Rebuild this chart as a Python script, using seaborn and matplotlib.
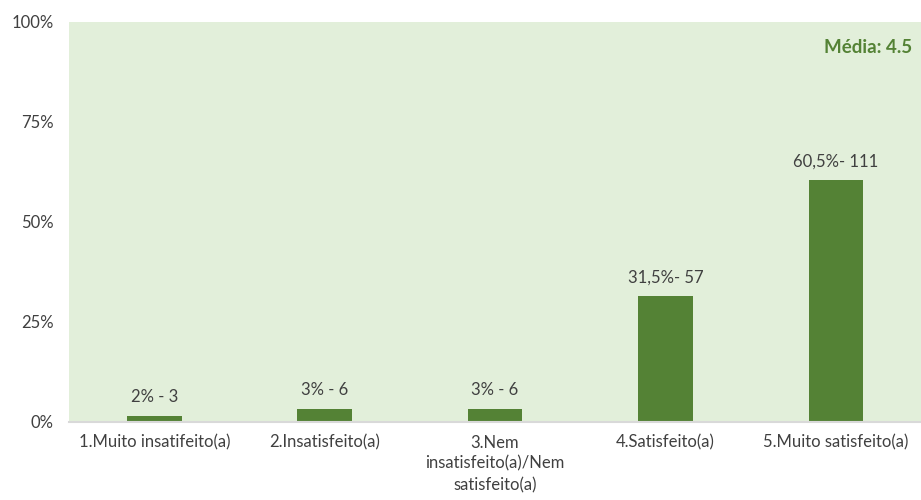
import matplotlib
matplotlib.use('Agg')
import matplotlib.pyplot as plt
import seaborn as sns
import pandas as pd
from matplotlib.ticker import FuncFormatter

# dados
categorias = ['1.Muito insatifeito(a)', '2.Insatisfeito(a)',
              '3.Nem\ninsatisfeito(a)/Nem\nsatisfeito(a)',
              '4.Satisfeito(a)', '5.Muito satisfeito(a)']
percentuais = [1.6, 3.3, 3.3, 31.5, 60.5]
rotulos = ['2% - 3', '3% - 6', '3% - 6', '31,5%- 57', '60,5%- 111']
media = 'Média: 4.5'

df = pd.DataFrame({'cat': categorias, 'pct': percentuais})

sns.set_style('white')
plt.rcParams['font.family'] = ['Lato', 'DejaVu Sans']

verde = '#548235'
fig = plt.figure(figsize=(9.21, 5), dpi=100)
ax = fig.add_axes([0.075, 0.156, 0.925, 0.8])
ax.set_facecolor('#E2EFDA')

sns.barplot(data=df, x='cat', y='pct', color=verde, width=0.32, saturation=1,
            linewidth=0, ax=ax)

for i, (v, t) in enumerate(zip(percentuais, rotulos)):
    ax.text(i, v + 2.7, t, ha='center', va='bottom', fontsize=12, color='#404040')

ax.text(0.99, 0.935, media, transform=ax.transAxes, ha='right', va='center',
        fontsize=13.5, fontweight='bold', color=verde)

ax.set_ylim(0, 100)
ax.set_yticks([0, 25, 50, 75, 100])
ax.yaxis.set_major_formatter(FuncFormatter(lambda v, p: f'{v:.0f}%'))
ax.set_xlabel('')
ax.set_ylabel('')
ax.tick_params(axis='both', length=0, labelsize=12, colors='#404040', pad=9)
ax.tick_params(axis='y', pad=11)
for lab in ax.get_xticklabels():
    lab.set_linespacing(1.4)
for s in ['top', 'right', 'left']:
    ax.spines[s].set_visible(False)
ax.spines['bottom'].set_color('#D9D9D9')
ax.spines['bottom'].set_linewidth(1.5)

fig.savefig('out.png', dpi=100)
